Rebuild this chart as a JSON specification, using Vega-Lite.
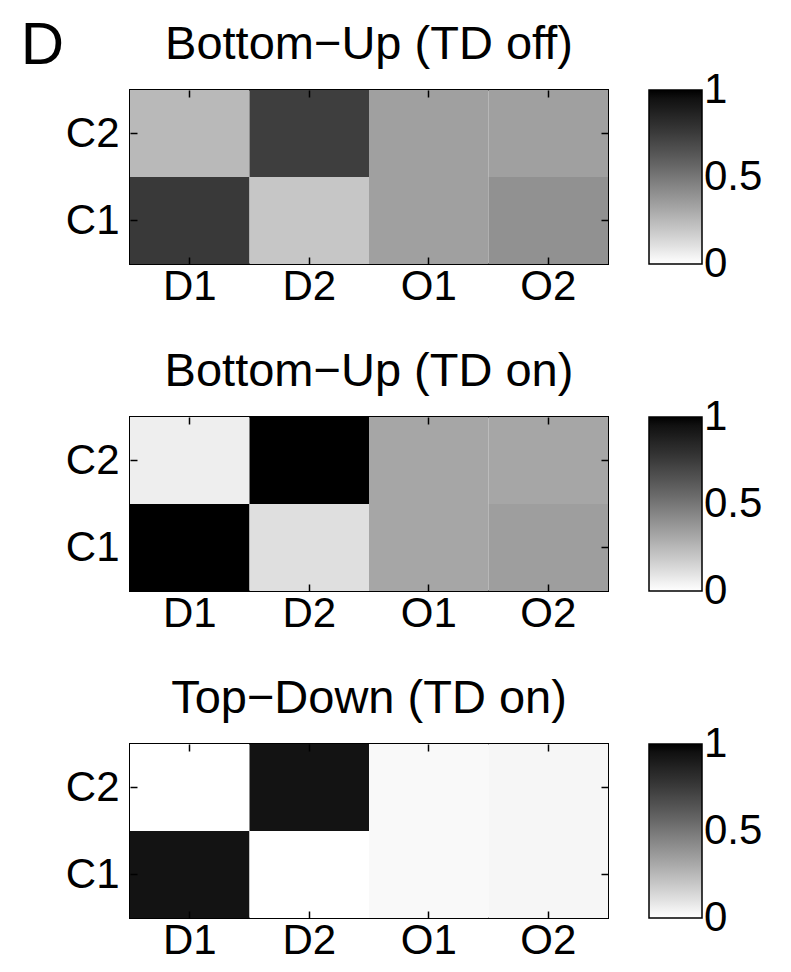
{
  "$schema": "https://vega.github.io/schema/vega-lite/v6.json",
  "background": "white",
  "padding": {"left": 20, "top": 16, "right": 10, "bottom": 10},
  "title": {"text": "D", "orient": "left", "angle": 0, "anchor": "end", "baseline": "top", "font": "Liberation Sans", "fontSize": 60, "fontWeight": "normal", "color": "black", "offset": -43, "dy": -73},
  "datasets": {
    "bu_off": [
      {"row": "C2", "col": "D1", "value": 0.25},
      {"row": "C2", "col": "D2", "value": 0.74},
      {"row": "C2", "col": "O1", "value": 0.34},
      {"row": "C2", "col": "O2", "value": 0.34},
      {"row": "C1", "col": "D1", "value": 0.76},
      {"row": "C1", "col": "D2", "value": 0.2},
      {"row": "C1", "col": "O1", "value": 0.34},
      {"row": "C1", "col": "O2", "value": 0.4}
    ],
    "bu_on": [
      {"row": "C2", "col": "D1", "value": 0.06},
      {"row": "C2", "col": "D2", "value": 1.0},
      {"row": "C2", "col": "O1", "value": 0.32},
      {"row": "C2", "col": "O2", "value": 0.32},
      {"row": "C1", "col": "D1", "value": 1.0},
      {"row": "C1", "col": "D2", "value": 0.11},
      {"row": "C1", "col": "O1", "value": 0.32},
      {"row": "C1", "col": "O2", "value": 0.35}
    ],
    "td_on": [
      {"row": "C2", "col": "D1", "value": 0.0},
      {"row": "C2", "col": "D2", "value": 0.94},
      {"row": "C2", "col": "O1", "value": 0.02},
      {"row": "C2", "col": "O2", "value": 0.03},
      {"row": "C1", "col": "D1", "value": 0.94},
      {"row": "C1", "col": "D2", "value": 0.0},
      {"row": "C1", "col": "O1", "value": 0.02},
      {"row": "C1", "col": "O2", "value": 0.03}
    ]
  },
  "vconcat": [
    {
      "data": {"name": "bu_off"},
      "width": 478, "height": 174,
      "title": {"text": "Bottom−Up (TD off)"},
      "layer": [
        {"mark": {"type": "rect"},
         "encoding": {
           "x": {"field": "col", "type": "nominal", "sort": ["D1", "D2", "O1", "O2"], "scale": {"paddingInner": 0, "paddingOuter": 0}, "axis": {"orient": "bottom", "labelPadding": 9}},
           "y": {"field": "row", "type": "nominal", "sort": ["C2", "C1"], "scale": {"paddingInner": 0, "paddingOuter": 0}, "axis": {"orient": "left"}},
           "color": {"field": "value", "type": "quantitative", "scale": {"domain": [0, 1], "range": ["#ffffff", "#000000"]}, "legend": {"values": [0, 0.5, 1], "format": "~g", "title": null, "encode": {"labels": {"update": {"baseline": {"value": "middle"}}}}}}
         }},
        {"mark": {"type": "rect", "opacity": 0},
         "encoding": {
           "x": {"field": "col", "type": "nominal", "sort": ["D1", "D2", "O1", "O2"], "axis": {"orient": "top", "labels": false}},
           "y": {"field": "row", "type": "nominal", "sort": ["C2", "C1"], "axis": {"orient": "right", "labels": false}}
         }}
      ],
      "resolve": {"axis": {"x": "independent", "y": "independent"}}
    },
    {
      "data": {"name": "bu_on"},
      "width": 478, "height": 174,
      "title": {"text": "Bottom−Up (TD on)"},
      "layer": [
        {"mark": {"type": "rect"},
         "encoding": {
           "x": {"field": "col", "type": "nominal", "sort": ["D1", "D2", "O1", "O2"], "scale": {"paddingInner": 0, "paddingOuter": 0}, "axis": {"orient": "bottom", "labelPadding": 9}},
           "y": {"field": "row", "type": "nominal", "sort": ["C2", "C1"], "scale": {"paddingInner": 0, "paddingOuter": 0}, "axis": {"orient": "left"}},
           "color": {"field": "value", "type": "quantitative", "scale": {"domain": [0, 1], "range": ["#ffffff", "#000000"]}, "legend": {"values": [0, 0.5, 1], "format": "~g", "title": null, "encode": {"labels": {"update": {"baseline": {"value": "middle"}}}}}}
         }},
        {"mark": {"type": "rect", "opacity": 0},
         "encoding": {
           "x": {"field": "col", "type": "nominal", "sort": ["D1", "D2", "O1", "O2"], "axis": {"orient": "top", "labels": false}},
           "y": {"field": "row", "type": "nominal", "sort": ["C2", "C1"], "axis": {"orient": "right", "labels": false}}
         }}
      ],
      "resolve": {"axis": {"x": "independent", "y": "independent"}}
    },
    {
      "data": {"name": "td_on"},
      "width": 478, "height": 174,
      "title": {"text": "Top−Down (TD on)"},
      "layer": [
        {"mark": {"type": "rect"},
         "encoding": {
           "x": {"field": "col", "type": "nominal", "sort": ["D1", "D2", "O1", "O2"], "scale": {"paddingInner": 0, "paddingOuter": 0}, "axis": {"orient": "bottom", "labelPadding": 9}},
           "y": {"field": "row", "type": "nominal", "sort": ["C2", "C1"], "scale": {"paddingInner": 0, "paddingOuter": 0}, "axis": {"orient": "left"}},
           "color": {"field": "value", "type": "quantitative", "scale": {"domain": [0, 1], "range": ["#ffffff", "#000000"]}, "legend": {"values": [0, 0.5, 1], "format": "~g", "title": null, "encode": {"labels": {"update": {"baseline": {"value": "middle"}}}}}}
         }},
        {"mark": {"type": "rect", "opacity": 0},
         "encoding": {
           "x": {"field": "col", "type": "nominal", "sort": ["D1", "D2", "O1", "O2"], "axis": {"orient": "top", "labels": false}},
           "y": {"field": "row", "type": "nominal", "sort": ["C2", "C1"], "axis": {"orient": "right", "labels": false}}
         }}
      ],
      "resolve": {"axis": {"x": "independent", "y": "independent"}}
    }
  ],
  "spacing": 39,
  "resolve": {"scale": {"color": "independent"}, "legend": {"color": "independent"}},
  "config": {
    "view": {"stroke": "black", "strokeWidth": 2},
    "axis": {
      "domain": false, "grid": false,
      "ticks": true, "tickSize": -7, "tickColor": "black", "tickWidth": 1.5,
      "labelFont": "Liberation Sans", "labelFontSize": 42, "labelColor": "black",
      "labelPadding": 18, "labelAngle": 0, "title": null
    },
    "legend": {
      "orient": "right", "offset": 40, "padding": 0,
      "gradientLength": 174, "gradientThickness": 53,
      "gradientStrokeColor": "black", "gradientStrokeWidth": 1.5,
      "labelFont": "Liberation Sans", "labelFontSize": 42, "labelColor": "black",
      "labelOffset": 6, "labelOverlap": false, "labelBaseline": "middle"
    },
    "title": {
      "font": "Liberation Sans", "fontSize": 47, "fontWeight": "normal", "color": "black",
      "anchor": "middle", "frame": "group", "offset": 20
    }
  }
}
